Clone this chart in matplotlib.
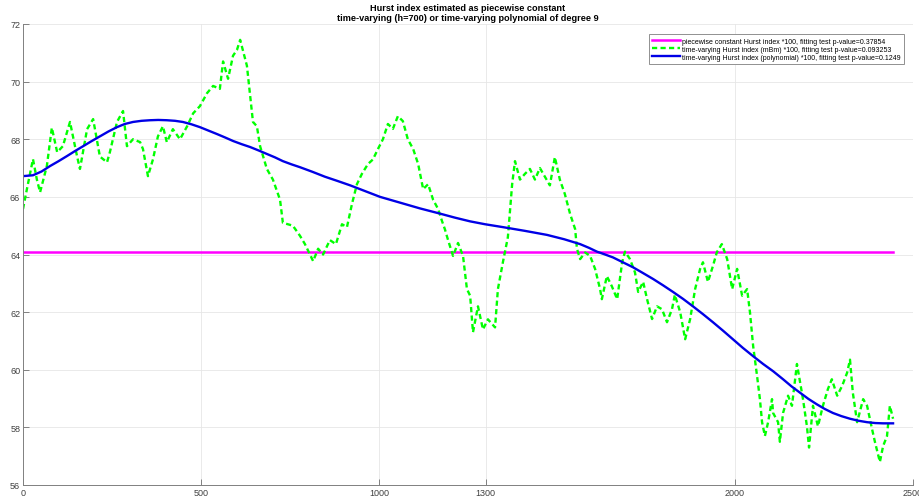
import matplotlib
matplotlib.use("Agg")
import matplotlib.pyplot as plt

# values
h_const = 64.08
const_x = [0, 2444]

mbm_x = [0, 11, 28, 39, 48, 67, 81, 96, 112, 132, 152, 160, 180, 197, 216, 236, 244,
         264, 281, 292, 309, 329, 337, 351, 365, 379, 393, 404, 421, 441, 461, 478,
         497, 517, 534, 553, 562, 576, 590, 601, 610, 629, 646, 657, 666, 685, 702,
         722, 730, 758, 778, 792, 806, 815, 829, 843, 862, 879, 896, 910, 924, 938,
         952, 969, 983, 997, 1011, 1025, 1039, 1053, 1067, 1081, 1096, 1110, 1124,
         1138, 1152, 1166, 1177, 1185, 1194, 1208, 1222, 1236, 1247, 1256, 1264,
         1278, 1292, 1306, 1326, 1334, 1348, 1362, 1374, 1382, 1396, 1410, 1424,
         1438, 1452, 1466, 1480, 1494, 1508, 1522, 1537, 1551, 1556, 1565, 1579,
         1593, 1607, 1621, 1626, 1640, 1654, 1669, 1683, 1691, 1705, 1719, 1728,
         1742, 1753, 1767, 1781, 1795, 1809, 1823, 1831, 1846, 1860, 1874, 1888,
         1902, 1910, 1924, 1938, 1949, 1963, 1978, 1992, 2006, 2020, 2034, 2042,
         2051, 2062, 2070, 2076, 2084, 2093, 2104, 2107, 2121, 2126, 2135, 2149,
         2160, 2174, 2191, 2202, 2208, 2219, 2233, 2247, 2261, 2272, 2287, 2301,
         2315, 2323, 2331, 2343, 2360, 2371, 2385, 2393, 2407, 2416, 2427, 2435, 2444]
mbm_y = [65.58, 66.27, 67.31, 66.6, 66.16, 67.07, 68.4, 67.55, 67.76, 68.6, 67.4, 66.97,
         68.35, 68.7, 67.4, 67.2, 67.55, 68.6, 68.98, 67.76, 68.0, 67.9, 67.66, 66.72,
         67.3, 68.1, 68.45, 67.9, 68.35, 68.0, 68.45, 68.9, 69.15, 69.6, 69.85, 69.75,
         70.7, 70.1, 70.9, 71.1, 71.45, 70.55, 68.6, 68.45, 67.76, 66.97, 66.6, 65.9,
         65.1, 65.0, 64.65, 64.36, 64.0, 63.77, 64.2, 64.0, 64.5, 64.36, 65.05, 64.95,
         65.75, 66.44, 66.8, 67.14, 67.3, 67.66, 68.0, 68.53, 68.36, 68.8, 68.63, 68.0,
         67.66, 67.14, 66.27, 66.44, 65.9, 65.58, 65.16, 64.88, 64.5, 63.95, 64.4,
         63.95, 62.8, 62.57, 61.3, 62.2, 61.4, 61.75, 61.47, 62.8, 63.73, 64.6, 66.44,
         67.24, 66.6, 66.8, 66.97, 66.6, 67.0, 66.7, 66.4, 67.38, 66.6, 66.1, 65.4,
         64.88, 64.2, 63.84, 64.07, 63.95, 63.5, 62.8, 62.45, 63.25, 62.9, 62.45, 63.73,
         64.1, 63.84, 63.38, 62.7, 63.05, 62.45, 61.76, 62.2, 62.1, 61.65, 62.1, 62.6,
         62.0, 61.06, 61.76, 62.8, 63.5, 63.73, 63.05, 63.6, 64.08, 64.36, 63.84, 62.8,
         63.5, 62.57, 62.8, 62.0, 60.82, 59.78, 58.98, 58.18, 57.7, 58.18, 58.98, 58.5,
         58.18, 57.5, 58.5, 59.1, 58.75, 60.2, 58.98, 58.04, 57.3, 58.75, 58.04, 58.75,
         59.33, 59.67, 59.1, 59.44, 59.9, 60.35, 59.2, 58.18, 58.98, 58.75, 57.94, 57.5,
         56.8, 57.35, 57.7, 58.75, 58.3]

poly_x = [0, 28, 52, 76, 100, 124, 146, 169, 192, 216, 240, 264, 286, 309, 333, 357,
          380, 404, 427, 449, 473, 497, 521, 545, 568, 590, 614, 638, 662, 685, 708,
          730, 754, 778, 813, 848, 884, 919, 961, 1003, 1059, 1115, 1171, 1213, 1256,
          1298, 1348, 1410, 1472, 1520, 1565, 1590, 1612, 1635, 1657, 1685, 1713,
          1741, 1770, 1798, 1826, 1854, 1882, 1910, 1938, 1966, 1994, 2022, 2051,
          2079, 2107, 2135, 2159, 2183, 2206, 2230, 2252, 2275, 2299, 2323, 2347,
          2371, 2394, 2416, 2444]
poly_y = [66.72, 66.75, 66.88, 67.07, 67.24, 67.42, 67.59, 67.76, 67.93, 68.1, 68.27,
          68.42, 68.53, 68.6, 68.64, 68.66, 68.67, 68.66, 68.64, 68.6, 68.52, 68.42,
          68.3, 68.18, 68.06, 67.94, 67.83, 67.73, 67.61, 67.49, 67.37, 67.24, 67.13,
          67.03, 66.87, 66.7, 66.55, 66.4, 66.2, 66.0, 65.8, 65.6, 65.42, 65.28, 65.15,
          65.05, 64.95, 64.82, 64.68, 64.53, 64.36, 64.23, 64.1, 64.0, 63.9, 63.73,
          63.56, 63.36, 63.15, 62.93, 62.7, 62.46, 62.2, 61.93, 61.65, 61.36, 61.06,
          60.76, 60.47, 60.2, 59.95, 59.67, 59.42, 59.2, 58.99, 58.8, 58.64, 58.5,
          58.39, 58.3, 58.23, 58.18, 58.15, 58.14, 58.14]

x_ticks = [0, 500, 1000, 1300, 2000, 2500]
y_ticks = [56, 58, 60, 62, 64, 66, 68, 70, 72]

labels = [
    "piecewise constant Hurst index *100, fitting test p-value=0.37854",
    "time-varying Hurst index (mBm) *100, fitting test p-value=0.093253",
    "time-varying Hurst index (polynomial) *100, fitting test p-value=0.1249",
]

plt.rcParams["font.family"] = ["Liberation Sans", "DejaVu Sans"]

fig = plt.figure(figsize=(9.19, 5.02), dpi=100)
ax = fig.add_axes([23 / 919, 16 / 502, 890 / 919, 461 / 502])

ax.plot(const_x, [h_const, h_const], color="#ff00ff", lw=1.8, label=labels[0])
ax.plot(mbm_x, mbm_y, color="#00ff00", lw=1.7, ls=(0, (2.2, 1.4)), label=labels[1])
ax.plot(poly_x, poly_y, color="#0000e6", lw=1.7, label=labels[2])

ax.set_xlim(0, 2500)
ax.set_ylim(56, 72)
ax.set_xticks(x_ticks)
ax.set_yticks(y_ticks)
ax.tick_params(direction="in", length=4, width=0.6, colors="#707070",
               labelsize=6.5, labelcolor="#404040", pad=2)
ax.grid(True, color="#e6e6e6", lw=0.6)
ax.set_axisbelow(True)
for s in ["top", "right"]:
    ax.spines[s].set_visible(False)
for s in ["left", "bottom"]:
    ax.spines[s].set_color("#808080")
    ax.spines[s].set_linewidth(0.7)

ax.set_title("Hurst index estimated as piecewise constant\n"
             "time-varying (h=700) or time-varying polynomial of degree 9",
             fontsize=6.6, fontweight="bold", pad=3, linespacing=1.1)

leg = ax.legend(loc="upper right", fontsize=5.0, handlelength=4.0, handletextpad=0.4,
                borderpad=0.45, labelspacing=0.15, fancybox=False, framealpha=1,
                bbox_to_anchor=(0.994, 0.985))
leg.get_frame().set_edgecolor("#909090")
leg.get_frame().set_linewidth(0.7)

fig.savefig("out.png", dpi=100)
